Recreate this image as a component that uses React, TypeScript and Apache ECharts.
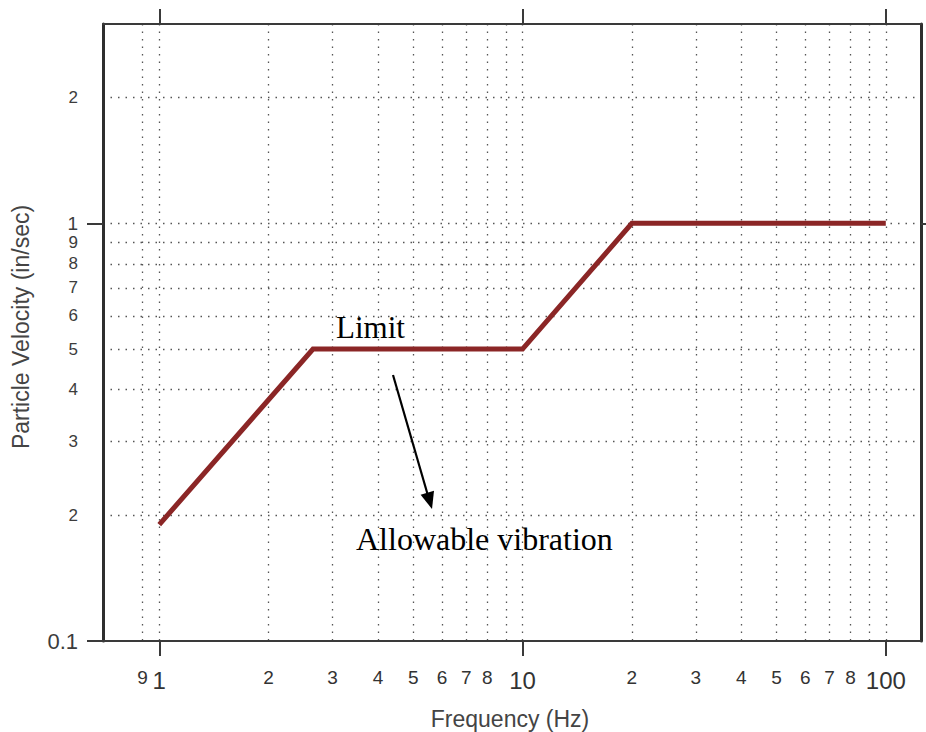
import React, { useEffect, useRef } from 'react';
import * as echarts from 'echarts';

// ---- data ----
const frequencyHz = [1, 2.65, 10, 20, 100];
const velocityInSec = [0.19, 0.5, 0.5, 1.0, 1.0];

const xRange = [0.7, 125];
const yRange = [0.1, 3];

const xGridValues = [0.9, 1, 2, 3, 4, 5, 6, 7, 8, 9, 10, 20, 30, 40, 50, 60, 70, 80, 90, 100];
const xLabelValues = [0.9, 1, 2, 3, 4, 5, 6, 7, 8, 10, 20, 30, 40, 50, 60, 70, 80, 100];
const xMajorTicks = [1, 10, 100];

const yGridValues = [0.2, 0.3, 0.4, 0.5, 0.6, 0.7, 0.8, 0.9, 1, 2];
const yLabelValues = [0.1, 0.2, 0.3, 0.4, 0.5, 0.6, 0.7, 0.8, 0.9, 1, 2];
const yMajorTicks = [0.1, 1];

const xTitle = 'Frequency (Hz)';
const yTitle = 'Particle Velocity (in/sec)';
const limitText = 'Limit';
const allowText = 'Allowable vibration';

const isMajor = (v: number) => Math.abs(Math.log10(v) - Math.round(Math.log10(v))) < 1e-6;
const mantissa = (v: number) => {
  const e = Math.floor(Math.log10(v) + 1e-9);
  return Math.round(v / Math.pow(10, e));
};

const SANS = '"Liberation Sans", Arial, sans-serif';
const NARROW = '"Liberation Sans Narrow", "Liberation Sans", Arial, sans-serif';
const SERIF = '"Liberation Serif", "Times New Roman", serif';

export default function App() {
  const ref = useRef<HTMLDivElement>(null);

  useEffect(() => {
    if (!ref.current) return;
    const chart = echarts.init(ref.current, undefined, { renderer: 'svg' });

    const gridLine = { show: true, lineStyle: { color: '#555', width: 1.3, type: [1.5, 6] as any } };

    const baseX = { type: 'log', logBase: 10, min: xRange[0], max: xRange[1], gridIndex: 0 };
    const baseY = { type: 'log', logBase: 10, min: yRange[0], max: yRange[1], gridIndex: 0 };

    const option: any = {
      animation: false,
      backgroundColor: '#fff',
      grid: { left: 103, right: 5, top: 24, bottom: 91, containLabel: false, outerBoundsMode: 'none' },
      xAxis: [
        {
          ...baseX,
          position: 'bottom',
          axisLine: { show: true, lineStyle: { color: '#3a3a3a', width: 2 } },
          axisTick: { show: true, customValues: xMajorTicks, inside: false, length: 15, lineStyle: { color: '#3a3a3a', width: 2 } },
          axisLabel: {
            show: true,
            customValues: xLabelValues,
            margin: 27,
            color: '#333',
            formatter: (v: number) => (isMajor(v) ? `{big|${v}}` : `{small|${mantissa(v)}}`),
            rich: {
              big: { fontFamily: NARROW, fontSize: 24, lineHeight: 24, color: '#333' },
              small: { fontFamily: NARROW, fontSize: 19, lineHeight: 19, color: '#333' },
            },
          },
          splitLine: { show: false },
        },
        {
          ...baseX,
          position: 'top',
          axisLine: { show: true, lineStyle: { color: '#3a3a3a', width: 2 } },
          axisTick: { show: true, customValues: xMajorTicks, inside: false, length: 15, lineStyle: { color: '#3a3a3a', width: 2 } },
          axisLabel: { show: false },
          splitLine: { show: false },
        },
        {
          ...baseX,
          position: 'bottom',
          axisLine: { show: false },
          axisTick: { show: false, customValues: xGridValues },
          axisLabel: { show: false },
          splitLine: gridLine,
        },
      ],
      yAxis: [
        {
          ...baseY,
          position: 'left',
          axisLine: { show: true, lineStyle: { color: '#2e2e2e', width: 3 } },
          axisTick: { show: true, customValues: yMajorTicks, inside: false, length: 16, lineStyle: { color: '#3a3a3a', width: 2 } },
          axisLabel: {
            show: true,
            customValues: yLabelValues,
            margin: 25,
            color: '#333',
            formatter: (v: number) => {
              if (Math.abs(v - 0.1) < 1e-9) return '{zero|0.1}';
              if (Math.abs(v - 1) < 1e-9) return '{one|1}';
              return `{small|${mantissa(v)}}`;
            },
            rich: {
              zero: { fontFamily: SANS, fontSize: 22, color: '#3c3c3c' },
              one: { fontFamily: SANS, fontSize: 19, color: '#3c3c3c' },
              small: { fontFamily: SANS, fontSize: 17, color: '#3c3c3c' },
            },
          },
          splitLine: { show: false },
        },
        {
          ...baseY,
          position: 'right',
          axisLine: { show: true, lineStyle: { color: '#2e2e2e', width: 3 } },
          axisTick: { show: true, customValues: [1], inside: false, length: 8, lineStyle: { color: '#3a3a3a', width: 2 } },
          axisLabel: { show: false },
          splitLine: { show: false },
        },
        {
          ...baseY,
          position: 'left',
          axisLine: { show: false },
          axisTick: { show: false, customValues: yGridValues },
          axisLabel: { show: false },
          splitLine: gridLine,
        },
      ],
      series: [
        {
          type: 'line',
          xAxisIndex: 0,
          yAxisIndex: 0,
          symbol: 'none',
          z: 5,
          lineStyle: { color: '#8b2626', width: 5, cap: 'butt', join: 'miter' },
          data: frequencyHz.map((f, i) => [f, velocityInSec[i]]),
        },
      ],
      graphic: [
        {
          type: 'text',
          x: 336,
          y: 327.5,
          style: { text: limitText, font: `31px ${SERIF}`, fill: '#000', verticalAlign: 'middle', align: 'left' },
          z: 10,
        },
        {
          type: 'text',
          x: 356,
          y: 538.5,
          style: { text: allowText, font: `32px ${SERIF}`, fill: '#000', verticalAlign: 'middle', align: 'left' },
          z: 10,
        },
        {
          type: 'line',
          shape: { x1: 393, y1: 375, x2: 427.5, y2: 494 },
          style: { stroke: '#000', lineWidth: 2.2 },
          z: 10,
        },
        {
          type: 'polygon',
          shape: { points: [[432, 509], [434, 490.7], [420.6, 494.7]] },
          style: { fill: '#000' },
          z: 10,
        },
        {
          type: 'text',
          x: 510,
          y: 719,
          style: { text: xTitle, font: `23px ${SANS}`, fill: '#444', align: 'center', verticalAlign: 'middle' },
        },
        {
          type: 'text',
          x: 21,
          y: 327,
          rotation: Math.PI / 2,
          style: { text: yTitle, font: `23px ${SANS}`, fill: '#444', align: 'center', verticalAlign: 'middle' },
        },
      ],
    };

    chart.setOption(option);
    return () => chart.dispose();
  }, []);

  return (
    <div
      ref={ref}
      style={{ position: 'fixed', left: 0, top: 0, width: 926, height: 732, background: '#fff' }}
    />
  );
}
